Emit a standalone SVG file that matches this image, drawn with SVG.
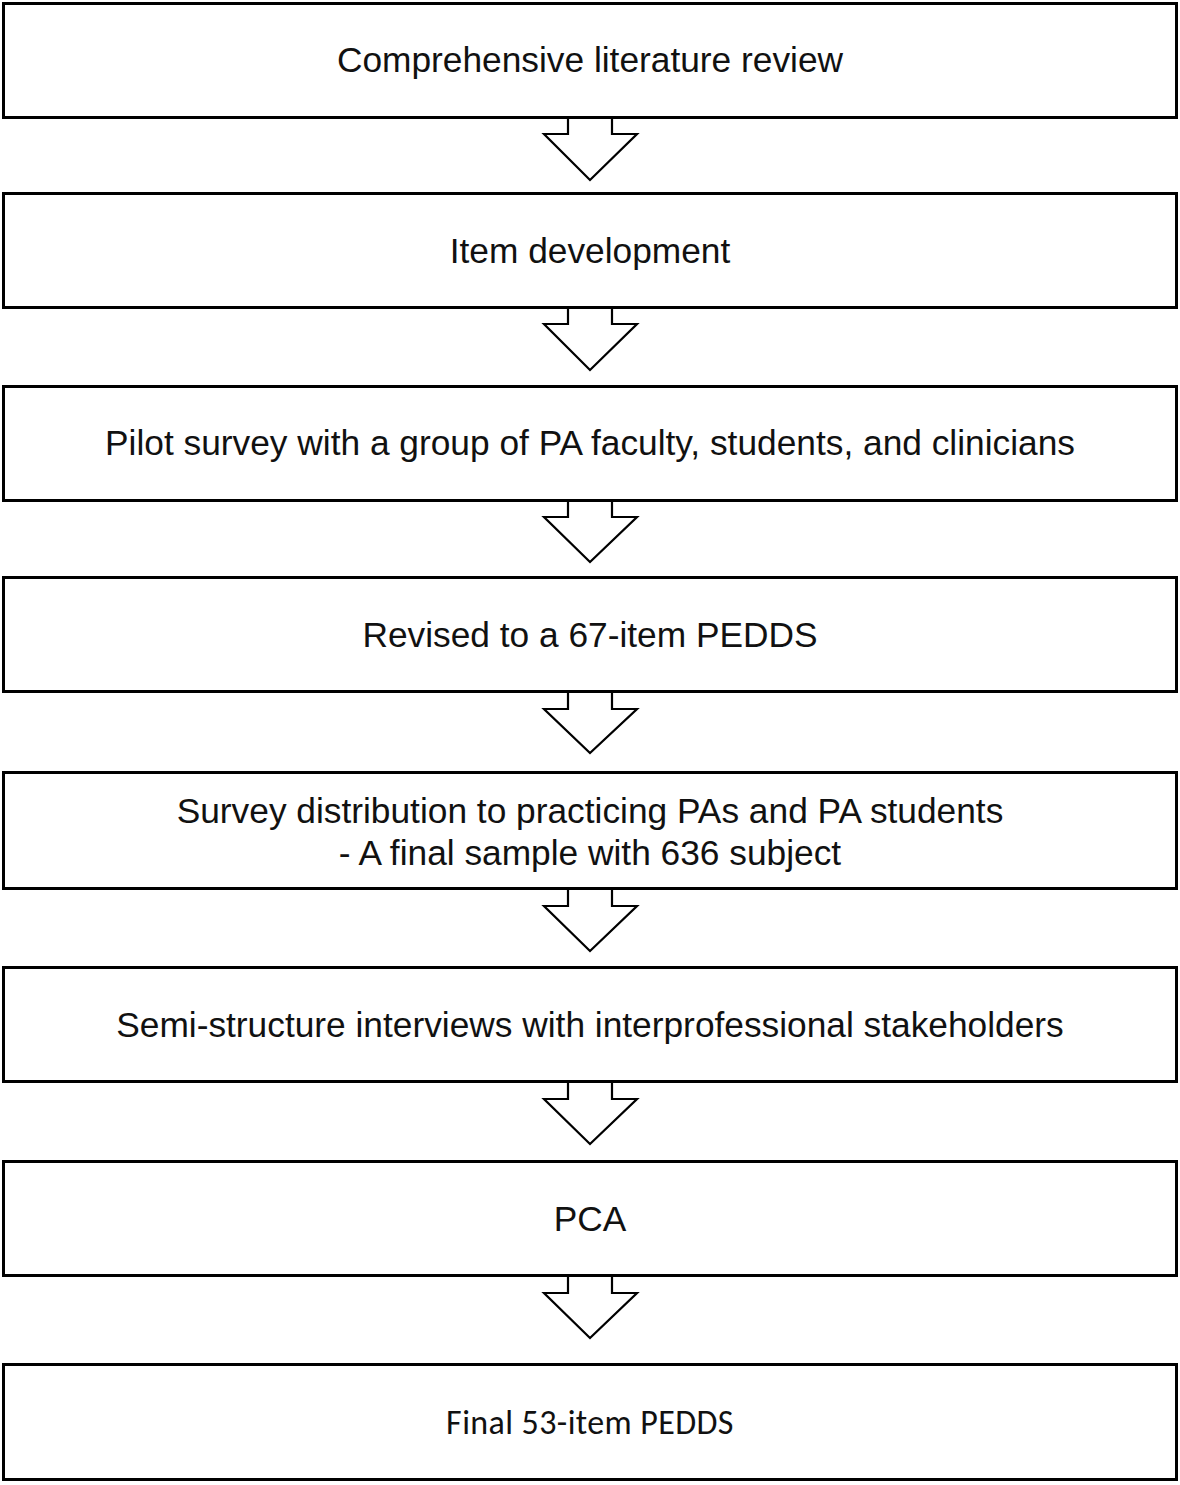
<svg xmlns="http://www.w3.org/2000/svg" width="1180" height="1485" viewBox="0 0 1180 1485">
<style>
.box{fill:#fff;stroke:#000;stroke-width:3}
.arr{fill:#fff;stroke:#000;stroke-width:2.2;stroke-linejoin:miter}
.t{font-family:"Liberation Sans",Arial,sans-serif;font-size:35.3px;fill:#111;text-anchor:middle}
.c{font-family:Carlito,"Open Sans",sans-serif;font-size:34px;letter-spacing:0.4px;fill:#111;text-anchor:middle}
</style>
<rect width="1180" height="1485" fill="#fff"/>
<g id="connectors">
<path class="arr" d="M568,117 V134 H544 L590,180 L637,134 H612 V117"/>
<path class="arr" d="M568,307 V324 H544 L590,370 L637,324 H612 V307"/>
<path class="arr" d="M568,500 V517 H544 L590,562 L637,517 H612 V500"/>
<path class="arr" d="M568,692 V709 H544 L590,753 L637,709 H612 V692"/>
<path class="arr" d="M568,889 V906 H544 L590,951 L637,906 H612 V889"/>
<path class="arr" d="M568,1082 V1099 H544 L590,1144 L637,1099 H612 V1082"/>
<path class="arr" d="M568,1276 V1293 H544 L590,1338 L637,1293 H612 V1276"/>
</g>
<g id="n1"><rect class="box" x="3.5" y="3.5" width="1173" height="114"/><text class="t" x="590" y="72">Comprehensive literature review</text></g>
<g id="n2"><rect class="box" x="3.5" y="193.5" width="1173" height="114"/><text class="t" x="590" y="263">Item development</text></g>
<g id="n3"><rect class="box" x="3.5" y="386.5" width="1173" height="114"/><text class="t" x="590" y="455">Pilot survey with a group of PA faculty, students, and clinicians</text></g>
<g id="n4"><rect class="box" x="3.5" y="577.5" width="1173" height="114"/><text class="t" x="590" y="647">Revised to a 67-item PEDDS</text></g>
<g id="n5"><rect class="box" x="3.5" y="772.5" width="1173" height="116"/><text class="t" x="590" y="823">Survey distribution to practicing PAs and PA students</text><text class="t" x="590" y="865">- A final sample with 636 subject</text></g>
<g id="n6"><rect class="box" x="3.5" y="967.5" width="1173" height="114"/><text class="t" x="590" y="1037">Semi-structure interviews with interprofessional stakeholders</text></g>
<g id="n7"><rect class="box" x="3.5" y="1161.5" width="1173" height="114"/><text class="t" x="590" y="1231">PCA</text></g>
<g id="n8"><rect class="box" x="3.5" y="1364.5" width="1173" height="115"/><text class="c" x="590" y="1434">Final 53-item PEDDS</text></g>
</svg>
